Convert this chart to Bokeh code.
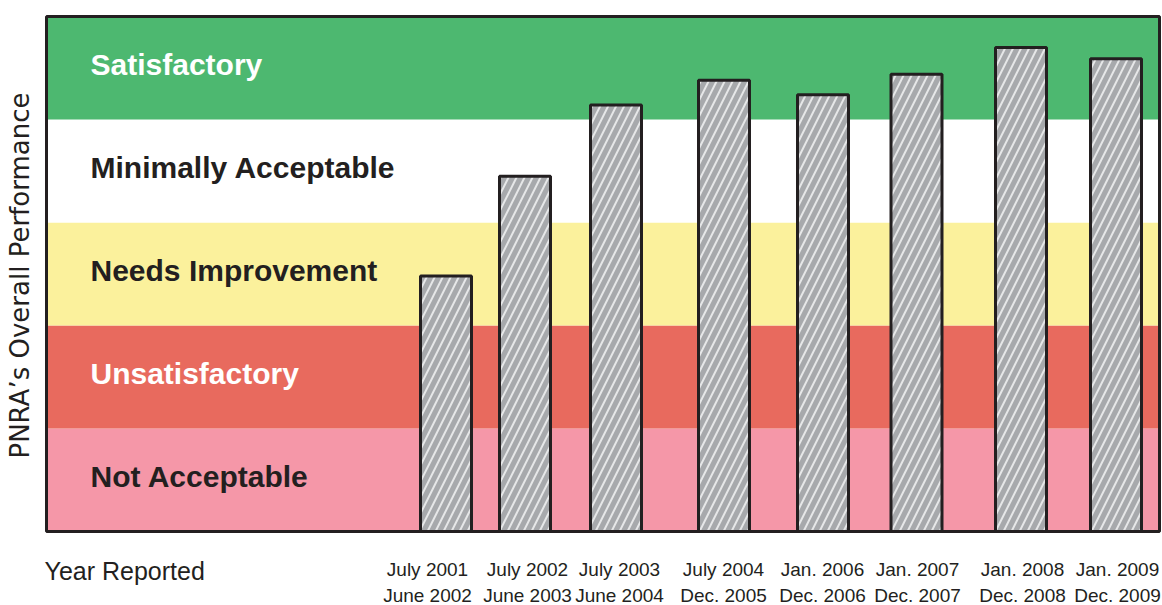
import math
from bokeh.plotting import figure
from bokeh.models import Range1d, ColumnDataSource
from bokeh.core.properties import value
from bokeh.embed import file_html
from bokeh.resources import INLINE

# ---- data ----
periods = ["July 2001\nJune 2002", "July 2002\nJune 2003", "July 2003\nJune 2004",
           "July 2004\nDec. 2005", "Jan. 2006\nDec. 2006", "Jan. 2007\nDec. 2007",
           "Jan. 2008\nDec. 2008", "Jan. 2009\nDec. 2009"]
performance = [2.48, 3.45, 4.14, 4.38, 4.24, 4.44, 4.70, 4.59]
bands = ["Not Acceptable", "Unsatisfactory", "Needs Improvement",
         "Minimally Acceptable", "Satisfactory"]
x_title = "Year Reported"
y_title = "PNRA\u2019s Overall Performance"

# ---- layout / style ----
bar_pos = [399.5, 478.5, 569.5, 677.5, 776.5, 870, 974.5, 1069.5]
label_pos = [381, 481, 573, 677, 776, 871, 976, 1071]
band_colors = ["#f597a8", "#e86a5e", "#fbf19c", "#ffffff", "#4db870"]
band_text_colors = ["#231f20", "#ffffff", "#231f20", "#231f20", "#ffffff"]
INK = "#231f20"
FONT = "'Liberation Sans', Arial, Helvetica, sans-serif"
WIDE = "'DejaVu Sans', Verdana, sans-serif"

W, H = 1162, 605
PX_PER_UNIT = 103.0
FRAME_W = 1113
p = figure(width=W, height=H, output_backend="svg", toolbar_location=None,
           x_range=Range1d(-46, W - 46),
           y_range=Range1d(-(H - 531) / PX_PER_UNIT, 5 + 16 / PX_PER_UNIT),
           x_axis_location=None, y_axis_location=None, min_border=0)
p.grid.visible = False
p.outline_line_color = None
p.background_fill_color = "#ffffff"
p.border_fill_color = "#ffffff"

n = len(bands)
band_src = ColumnDataSource(dict(
    bottom=list(range(n)), top=[i + 1 for i in range(n)],
    color=band_colors, name=bands, tcolor=band_text_colors,
    ymid=[i + 0.53 for i in range(n)], xlab=[44] * n,
))
p.quad(left=0, right=FRAME_W, bottom="bottom", top="top", fill_color="color",
       line_color=None, source=band_src)
p.text(x="xlab", y="ymid", text="name", text_color="tcolor", source=band_src,
       text_font=value(FONT), text_font_style="bold", text_font_size="30px",
       text_baseline="middle", text_align="left")

# bars
bar_src = ColumnDataSource(dict(x=bar_pos, top=performance, lx=label_pos,
                                lab=periods, ly=[-0.495] * len(periods)))
p.vbar(x="x", top="top", bottom=0, width=51, source=bar_src,
       fill_color="#a7a9ac", line_color=INK, line_width=3,
       hatch_pattern="/", hatch_color="#e6e7e8", hatch_scale=16, hatch_weight=2)

# frame outline
p.quad(left=0, right=FRAME_W, bottom=0, top=5, fill_color=None,
       line_color=INK, line_width=3)

# category labels (x)
p.text(x="lx", y="ly", text="lab", source=bar_src, text_font=value(FONT),
       text_font_size="19px", text_color=INK, text_align="center",
       text_baseline="middle", text_line_height=1.2)

# axis titles
p.text(x=[-2], y=[-0.379], text=[x_title], text_font=value(FONT),
       text_font_size="25px", text_color=INK, text_align="left",
       text_baseline="middle")
p.text(x=[-27], y=[2.485], text=[y_title], angle=math.pi / 2,
       text_font=value(WIDE), text_font_size="26px", text_color=INK,
       text_align="center", text_baseline="middle")

open("out.html", "w").write(file_html(p, INLINE))
